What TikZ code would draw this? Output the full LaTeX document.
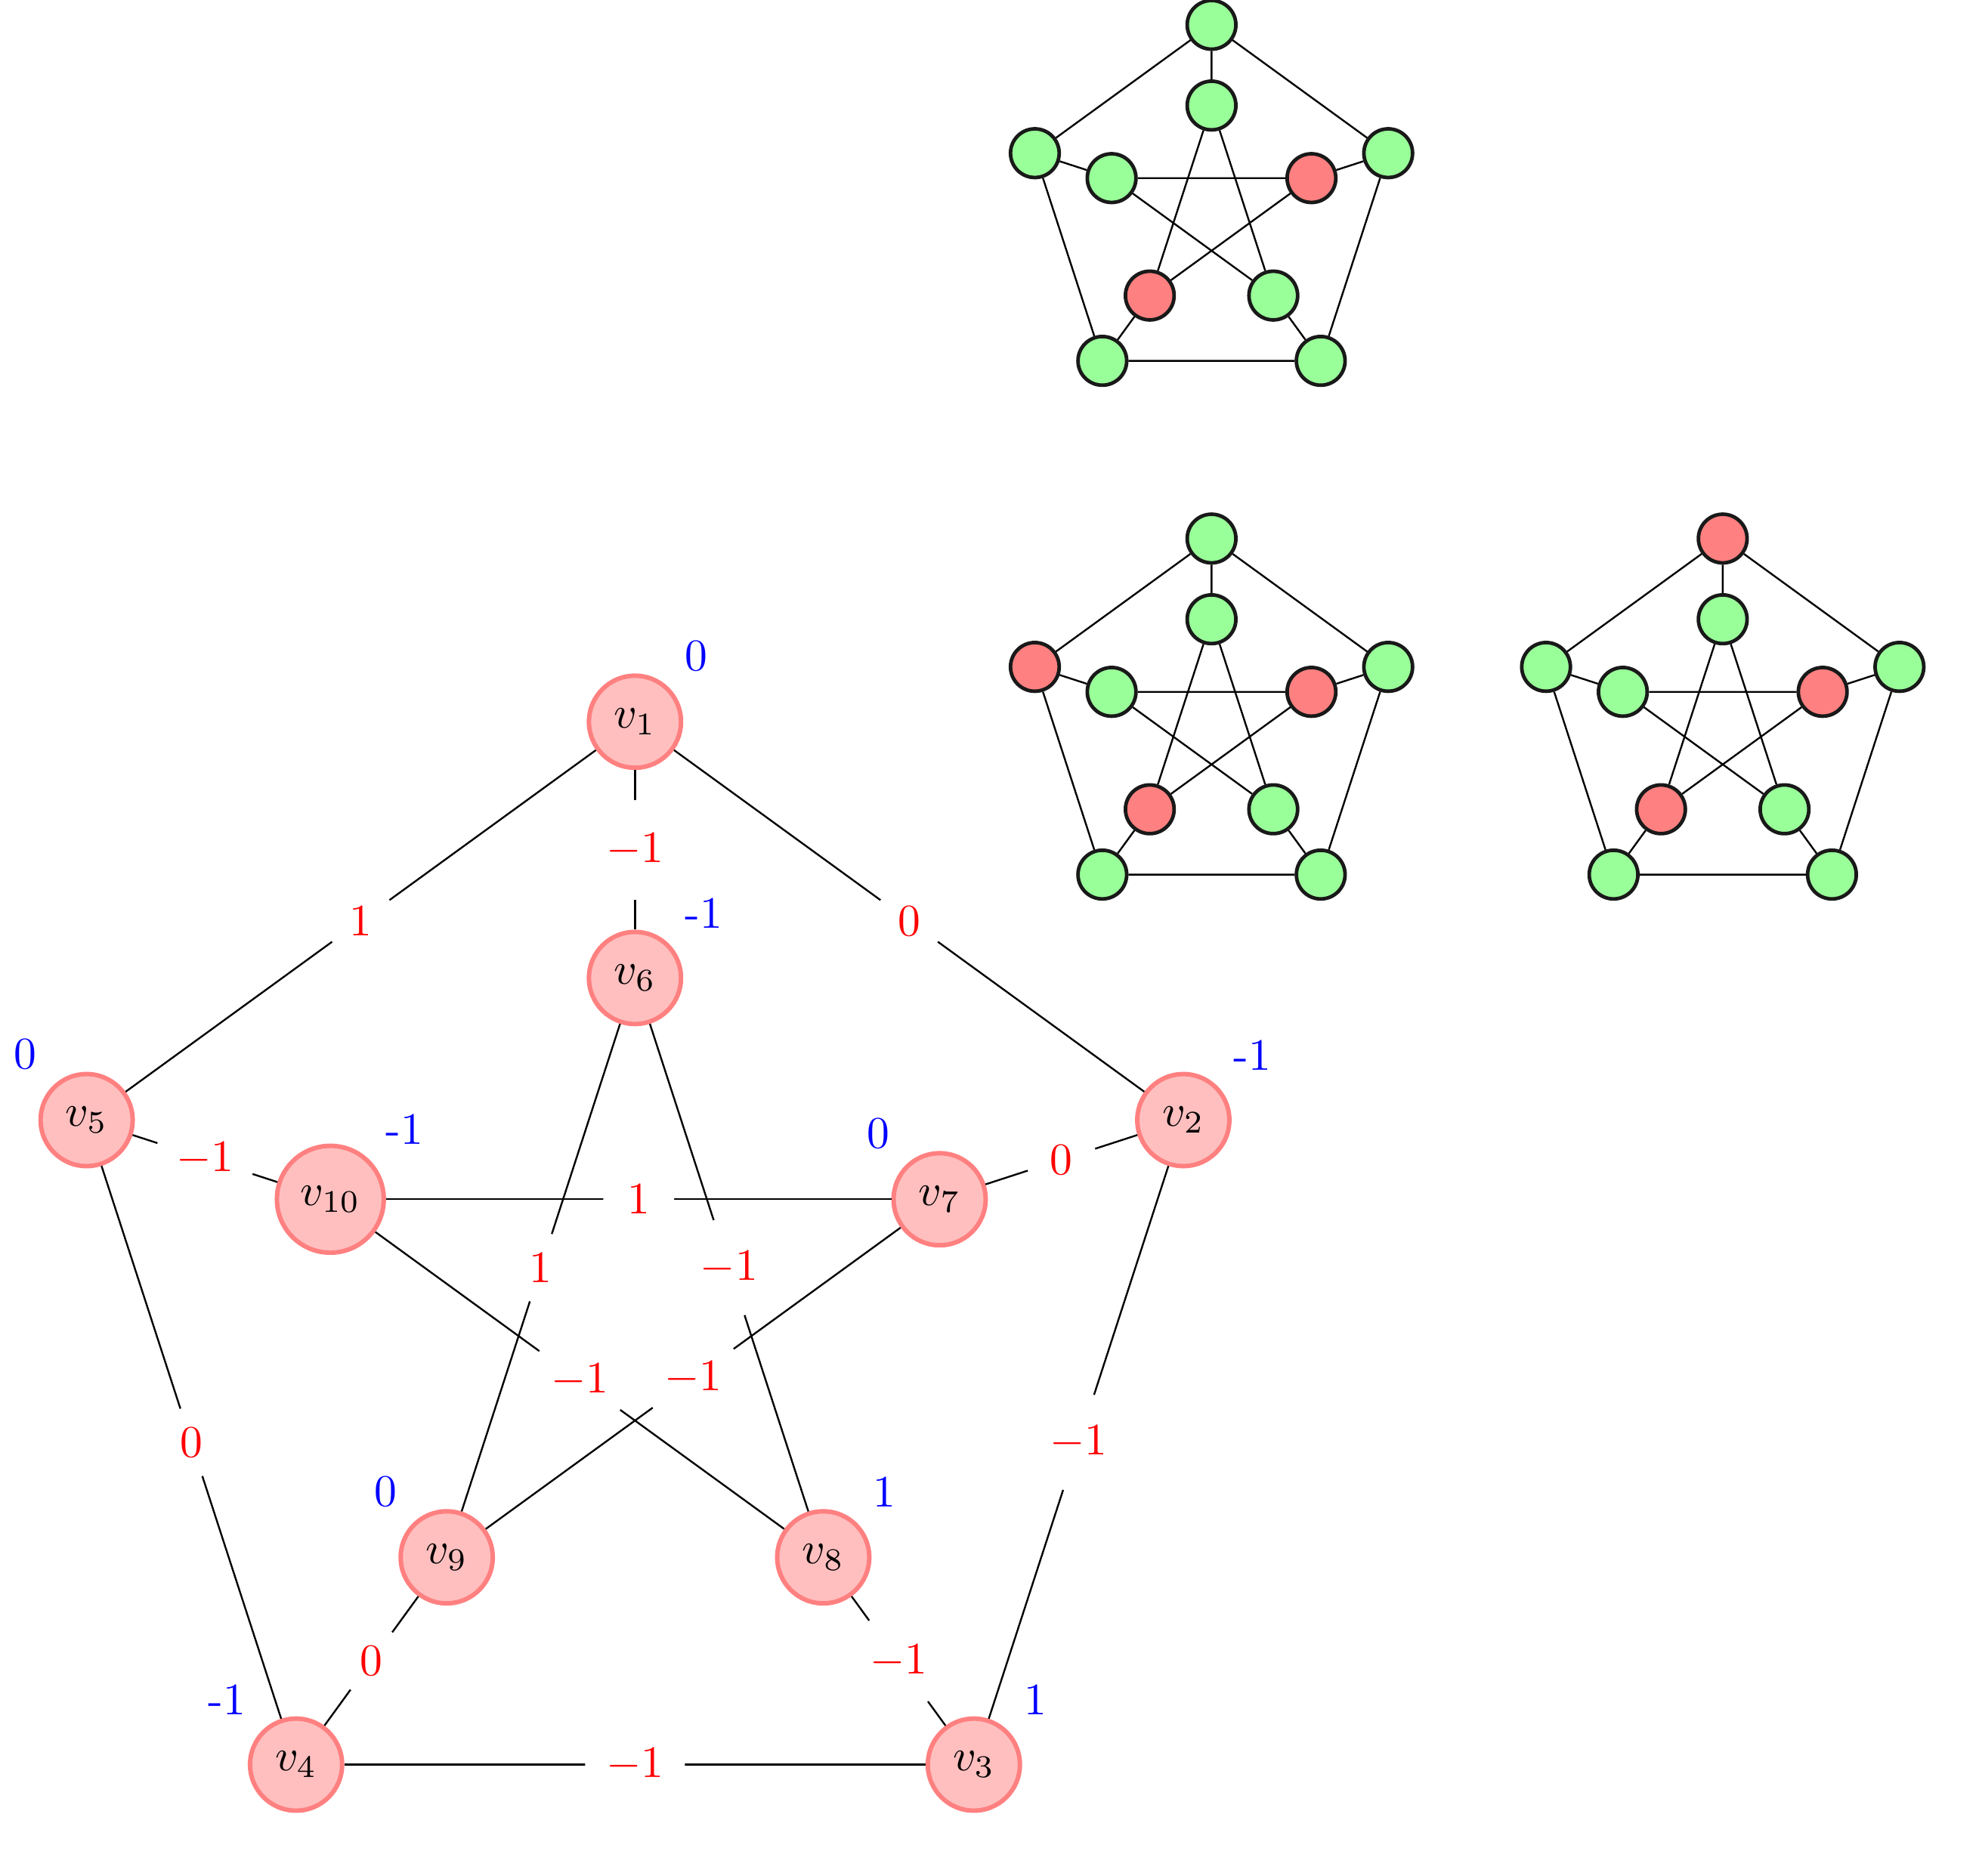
\documentclass[tikz,border=0pt]{standalone}
\usepackage{amsmath}
\usepackage{amssymb}
\usepackage{tikz}
\usetikzlibrary{positioning}

\definecolor{lightgreen}{RGB}{153,255,153}

\begin{document}
\begin{tikzpicture}[
	vertex/.style={circle, draw=red!50, fill=red!25, line width=1pt, inner sep=3.4pt},
	weight/.style={circle, fill=white, text=red, inner sep=2.7pt},
	vlab/.style={blue},
	dot/.style={circle, draw=black!90, thick, minimum size=0.38cm, inner sep=0pt, fill=lightgreen},
	hit/.style={fill=red!50}]
	
	\useasboundingbox (-4.956,-4.506) rectangle (10.49,10.134);
	
	% labelled graph
	\node (v1) [vertex, label={[vlab, name=w1]45:0}] at (90:4.5) {$v_1$};
	\node (v2) [vertex, label={[vlab, name=w2]45:-1}] at (18:4.5) {$v_2$};
	\node (v3) [vertex, label={[vlab, name=w3]45:1}] at (-54:4.5) {$v_3$};
	\node (v4) [vertex, label={[vlab, name=w4]135:-1}] at (-126:4.5) {$v_4$};
	\node (v5) [vertex, label={[vlab, name=w5]135:0}] at (162:4.5) {$v_5$};
	\node (v6) [vertex, label={[vlab, name=w6]45:-1}] at (90:2.5) {$v_6$};
	\node (v7) [vertex, label={[vlab, name=w7]135:0}] at (18:2.5) {$v_7$};
	\node (v8) [vertex, label={[vlab, name=w8]45:1}] at (-54:2.5) {$v_8$};
	\node (v9) [vertex, label={[vlab, name=w9]135:0}] at (-126:2.5) {$v_9$};
	\node (v10) [vertex, label={[vlab, name=w10]45:-1}] at (162:2.5) {$v_{10}$};
	
	\path
	(v1) edge node [weight] (e15) {$1$} (v5)
	(v1) edge node [weight] (e16) {$-1$} (v6)
	(v1) edge node [weight] (e12) {$0$} (v2)
	
	(v2) edge node [weight] (e27) {$0$} (v7)
	(v2) edge node [weight] (e23) {$-1$} (v3)
	
	(v3) edge node [weight] (e38) {$-1$} (v8)
	(v3) edge node [weight] (e34) {$-1$} (v4)
	
	(v4) edge node [weight] (e49) {$0$} (v9)
	(v4) edge node [weight] (e45) {$0$} (v5)
	
	(v5) edge node [weight] (e510) {$-1$} (v10)
	
	(v6) edge node [weight] (e69) {$1$} (v9)
	(v6) edge node [weight] (e68) {$-1$} (v8)
	
	(v7) edge node [weight] (e710) {$1$} (v10)
	(v7) edge node [weight] (e79) {$-1$} (v9)
	
	(v8) edge node [weight] (e810) {$-1$} (v10);
	
	% first colouring
	\begin{scope}[shift={(4.5,8.49)}]
		\node (a1) [dot] at (90:1.45) {};
		\node (a2) [dot] at (18:1.45) {};
		\node (a3) [dot] at (-54:1.45) {};
		\node (a4) [dot] at (-126:1.45) {};
		\node (a5) [dot] at (162:1.45) {};
		\node (a6) [dot] at (90:0.82) {};
		\node (a7) [dot, hit] at (18:0.82) {};
		\node (a8) [dot] at (-54:0.82) {};
		\node (a9) [dot, hit] at (-126:0.82) {};
		\node (a10) [dot] at (162:0.82) {};
	\end{scope}
	\draw (a1) -- (a2) -- (a3) -- (a4) -- (a5) -- (a1);
	\draw (a1) -- (a6) (a2) -- (a7) (a3) -- (a8) (a4) -- (a9) (a5) -- (a10);
	\draw (a6) -- (a8) (a6) -- (a9) (a7) -- (a9) (a7) -- (a10) (a8) -- (a10);
	
	% second colouring
	\begin{scope}[shift={(4.5,4.48)}]
		\node (b1) [dot] at (90:1.45) {};
		\node (b2) [dot] at (18:1.45) {};
		\node (b3) [dot] at (-54:1.45) {};
		\node (b4) [dot] at (-126:1.45) {};
		\node (b5) [dot, hit] at (162:1.45) {};
		\node (b6) [dot] at (90:0.82) {};
		\node (b7) [dot, hit] at (18:0.82) {};
		\node (b8) [dot] at (-54:0.82) {};
		\node (b9) [dot, hit] at (-126:0.82) {};
		\node (b10) [dot] at (162:0.82) {};
	\end{scope}
	\draw (b1) -- (b2) -- (b3) -- (b4) -- (b5) -- (b1);
	\draw (b1) -- (b6) (b2) -- (b7) (b3) -- (b8) (b4) -- (b9) (b5) -- (b10);
	\draw (b6) -- (b8) (b6) -- (b9) (b7) -- (b9) (b7) -- (b10) (b8) -- (b10);
	
	% third colouring
	\begin{scope}[shift={(8.49,4.48)}]
		\node (c1) [dot, hit] at (90:1.45) {};
		\node (c2) [dot] at (18:1.45) {};
		\node (c3) [dot] at (-54:1.45) {};
		\node (c4) [dot] at (-126:1.45) {};
		\node (c5) [dot] at (162:1.45) {};
		\node (c6) [dot] at (90:0.82) {};
		\node (c7) [dot, hit] at (18:0.82) {};
		\node (c8) [dot] at (-54:0.82) {};
		\node (c9) [dot, hit] at (-126:0.82) {};
		\node (c10) [dot] at (162:0.82) {};
	\end{scope}
	\draw (c1) -- (c2) -- (c3) -- (c4) -- (c5) -- (c1);
	\draw (c1) -- (c6) (c2) -- (c7) (c3) -- (c8) (c4) -- (c9) (c5) -- (c10);
	\draw (c6) -- (c8) (c6) -- (c9) (c7) -- (c9) (c7) -- (c10) (c8) -- (c10);
\end{tikzpicture}
\end{document}
